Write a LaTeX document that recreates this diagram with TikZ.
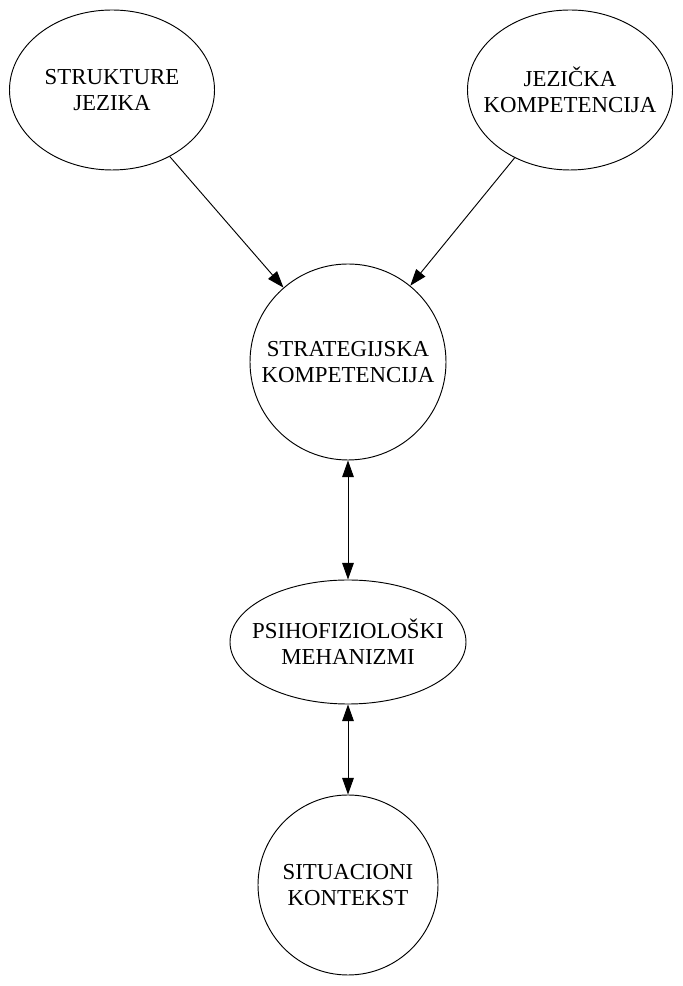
\documentclass[tikz,border=0pt]{standalone}
\usepackage{fontspec}
\setmainfont{Liberation Serif}
\usetikzlibrary{shapes.geometric,arrows.meta}
\begin{document}
\begin{tikzpicture}
	\tikzstyle{blob}=[ellipse,draw=black,line width=0.8pt,inner sep=0pt]
	\tikzstyle{ring}=[circle,draw=black,line width=0.8pt,inner sep=0pt]
	\tikzstyle{caption}=[align=center,inner sep=0pt,font=\fontsize{19.5}{22.5}\selectfont]
	\tikzstyle{edge}=[draw,line width=0.8pt,-{Triangle[length=5mm,width=3.5mm]}]
	\tikzstyle{twoway}=[draw,line width=0.8pt,{Triangle[length=5mm,width=3.5mm]}-{Triangle[length=5mm,width=3.5mm]}]
	\useasboundingbox (0,0) rectangle (20.49,29.58);
	\begin{scope}
		\node [blob,minimum width=6.15cm,minimum height=4.8cm] (sj) at (3.36,26.88) {};
		\node [blob,minimum width=6.15cm,minimum height=4.8cm] (jk) at (17.1,26.88) {};
		\node [ring,minimum size=5.88cm] (sk) at (10.44,18.72) {};
		\node [blob,minimum width=7.08cm,minimum height=3.72cm] (pm) at (10.44,10.32) {};
		\node [ring,minimum size=5.4cm] (ks) at (10.44,3.03) {};
		\node [caption] (sj-t) at (sj) {STRUKTURE\\JEZIKA};
		\node [caption] (jk-t) at (jk) {JEZIČKA\\KOMPETENCIJA};
		\node [caption] (sk-t) at (sk) {STRATEGIJSKA\\KOMPETENCIJA};
		\node [caption] (pm-t) at (pm) {PSIHOFIZIOLOŠKI\\MEHANIZMI};
		\node [caption] (ks-t) at (ks) {SITUACIONI\\KONTEKST};
		\path[edge] (sj) -- (sk);
		\path[edge] (jk) -- (sk);
		\path[twoway] (sk) -- (pm);
		\path[twoway] (pm) -- (ks);
	\end{scope}
\end{tikzpicture}
\end{document}
